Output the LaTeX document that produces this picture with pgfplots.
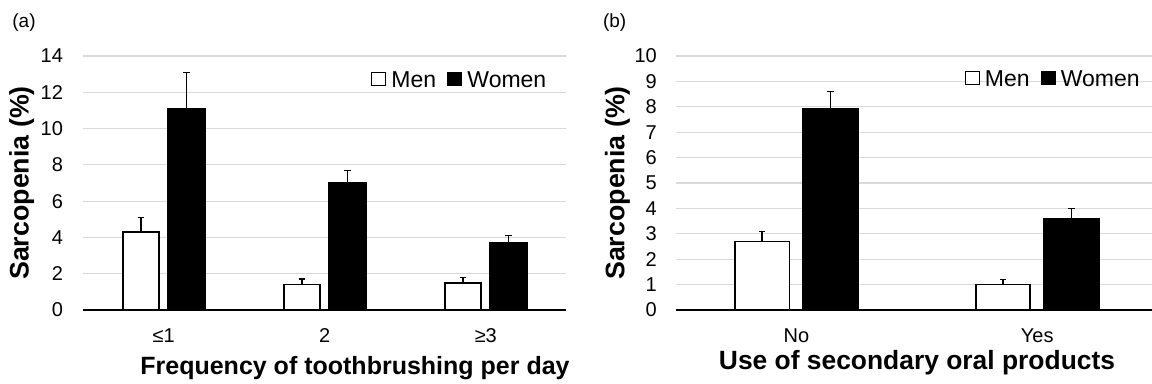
\documentclass[border=0pt]{standalone}
\usepackage{fontspec}
\setmainfont{Liberation Sans}
\usepackage{pgfplots}
\pgfplotsset{compat=1.18}

\definecolor{gridgray}{RGB}{217,217,217}

\pgfplotsset{
  sarcostyle/.style={
    scale only axis,
    height=127pt,
    ymin=0,
    xmin=-0.5,
    axis x line*=bottom,
    axis y line*=left,
    y axis line style={draw=none},
    x axis line style={-, black, line width=1pt},
    major tick length=0pt,
    ymajorgrids,
    grid style={gridgray, line width=0.6pt},
    xtick={0,1,2},
    /pgf/number format/assume math mode=true,
    yticklabel style={font=\fontsize{10}{11}\selectfont, anchor=east, inner sep=0pt, xshift=-10pt},
    xticklabel style={font=\fontsize{10}{11}\selectfont, anchor=base, inner sep=0pt, yshift=-16.3pt},
    legend style={draw=none, fill=none, inner sep=0pt, legend columns=2,
      font=\fontsize{11.5}{13}\selectfont, nodes={inner sep=0pt},
      /tikz/every even column/.append style={column sep=5.5pt}},
    legend image code/.code={\draw[##1, line width=0.6pt] (0pt,-2.3pt) rectangle (7pt,4.4pt); \path (9.4pt,0pt);},
    bar width=0.227,
    error bars/y dir=plus,
    error bars/y explicit,
    error bars/error bar style={line width=0.75pt, black},
    error bars/error mark options={rotate=90, mark size=1.6pt, line width=0.75pt, black},
  },
  menbar/.style={ybar, bar shift=0pt, fill=white, draw=black, line width=0.9pt},
  womenbar/.style={ybar, bar shift=0pt, fill=black, draw=black, line width=0.9pt},
}

\begin{document}
\begin{tikzpicture}
\useasboundingbox (0pt,0pt) rectangle (576pt,192pt);

% Panel (a)
\begin{axis}[sarcostyle,
  at={(41.65pt,37pt)}, anchor=south west,
  width=241.5pt,
  xmax=2.5, ymax=14,
  ytick={0,2,4,6,8,10,12,14},
  xticklabels={≤1,2,≥3},
  xlabel={Frequency of toothbrushing per day},
  ylabel={Sarcopenia (\%)},
  every axis x label/.style={at={(axis description cs:0.5625,0)}, anchor=base, yshift=-32.3pt, font=\fontsize{12.5}{14}\selectfont\bfseries},
  every axis y label/.style={at={(axis description cs:-0.1275,0.5)}, rotate=90, anchor=center, font=\fontsize{13.4}{15}\selectfont\bfseries},
  legend style={at={(0.9594,0.9005)}, anchor=east},
]
\addplot[menbar] coordinates {(-0.142,4.3) +- (0,0.8) (0.858,1.4) +- (0,0.3) (1.858,1.5) +- (0,0.3)};
\addplot[womenbar] coordinates {(0.142,11.1) +- (0,2.0) (1.142,7.0) +- (0,0.7) (2.142,3.7) +- (0,0.4)};
\legend{Men,Women}
\end{axis}

% Panel (b)
\begin{axis}[sarcostyle,
  at={(338pt,37pt)}, anchor=south west,
  width=238pt,
  xmax=1.4767, ymax=10,
  ytick={0,1,2,3,4,5,6,7,8,9,10},
  xtick={0,1},
  xticklabels={No,Yes},
  xlabel={Use of secondary oral products},
  ylabel={Sarcopenia (\%)},
  yticklabel style={xshift=0.6pt},
  every axis x label/.style={at={(axis description cs:0.5063,0)}, anchor=base, yshift=-30pt, font=\fontsize{13.2}{15}\selectfont\bfseries},
  every axis y label/.style={at={(axis description cs:-0.1229,0.5)}, rotate=90, anchor=center, font=\fontsize{13.4}{15}\selectfont\bfseries},
  legend style={at={(0.975,0.9046)}, anchor=east},
]
\addplot[menbar] coordinates {(-0.142,2.7) +- (0,0.4) (0.858,1.0) +- (0,0.2)};
\addplot[womenbar] coordinates {(0.142,7.9) +- (0,0.7) (1.142,3.6) +- (0,0.4)};
\legend{Men,Women}
\end{axis}

\node[anchor=west, inner sep=0pt, font=\fontsize{9.5}{11}\selectfont] at (6pt,180.5pt) {(a)};
\node[anchor=west, inner sep=0pt, font=\fontsize{9.5}{11}\selectfont] at (301.3pt,180.5pt) {(b)};
\end{tikzpicture}
\end{document}
